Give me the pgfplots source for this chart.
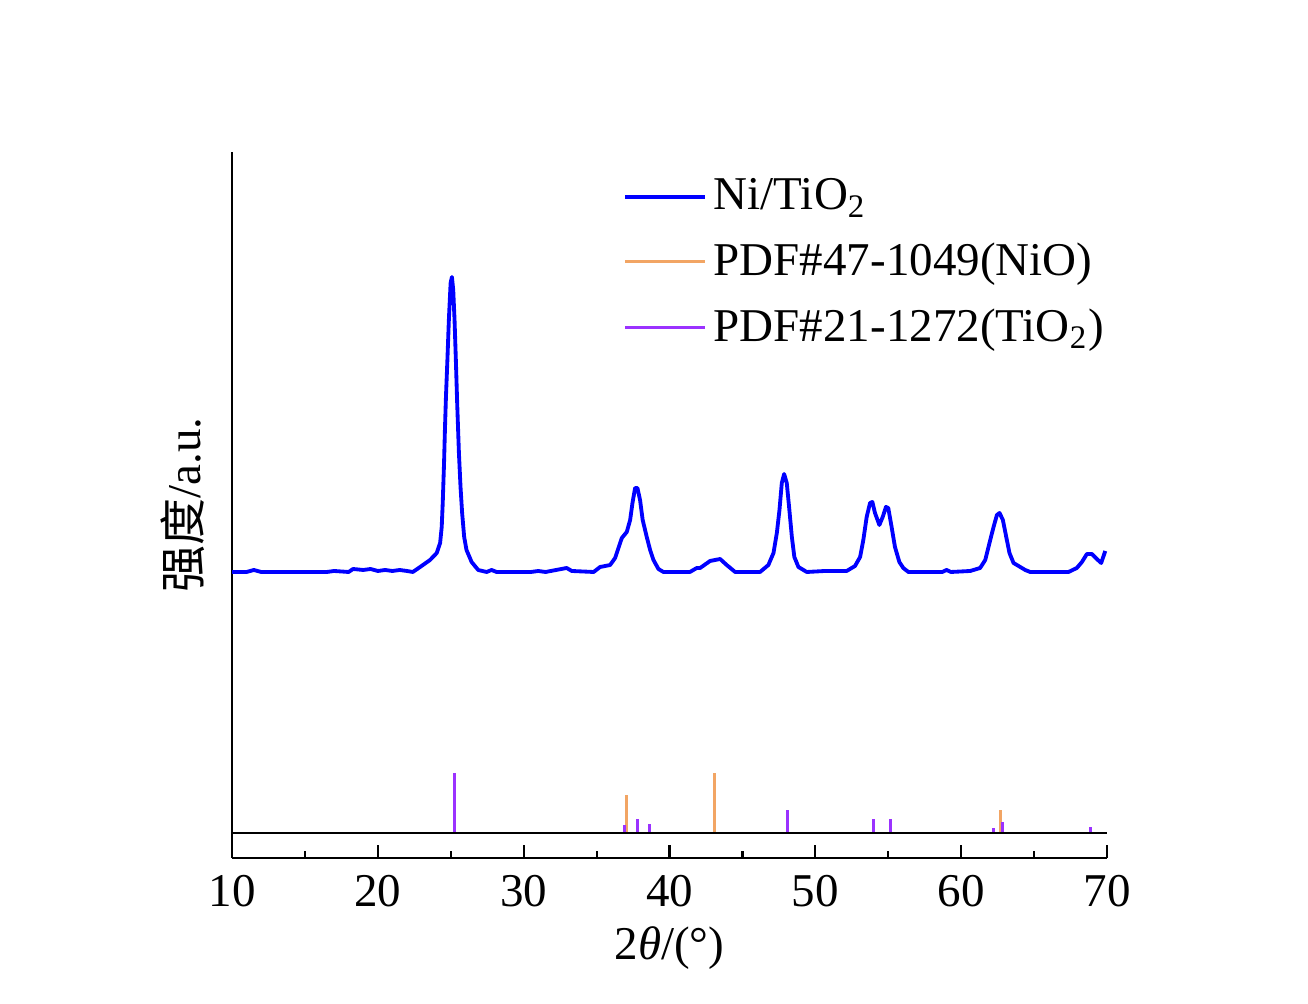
\documentclass[border=0pt]{standalone}
\usepackage{pgfplots}
\pgfplotsset{compat=1.18}
\usepackage{fontspec}
\setmainfont{Liberation Serif}
\newfontfamily\cjk{Noto Sans CJK SC}
\definecolor{nioorange}{RGB}{242,165,100}
\definecolor{tipurple}{RGB}{155,50,255}
\begin{document}
\begin{tikzpicture}
\useasboundingbox (-69.6pt,-43.8pt) rectangle (322.8pt,257.4pt);
\begin{axis}[
  scale only axis,
  width=262.5pt, height=211.8pt,
  xmin=10, xmax=70, ymin=-25, ymax=681,
  axis x line*=bottom, axis y line*=left,
  axis line style={line width=0.65pt},
  xtick={10,20,30,40,50,60,70},
  minor x tick num=1,
  ytick=\empty,
  tick align=inside,
  major tick length=3.9pt, minor tick length=2.1pt,
  every tick/.style={black, line width=0.65pt},
  /pgf/number format/assume math mode=true,
  tick label style={font=\fontsize{14.1}{17}\selectfont},
  xticklabel style={yshift=-1.6pt},
  label style={font=\fontsize{14.1}{17}\selectfont},
  xlabel={2\textit{θ}/(°)},
  ylabel={{\cjk 强度}/a.u.},
  x label style={at={(axis description cs:0.5,-0.1275)}, anchor=center},
  y label style={at={(axis description cs:-0.056,0.5)}, anchor=center},
  legend style={draw=none, fill=none, at={(0.435,0.982)}, anchor=north west,
    font=\fontsize{14.1}{17}\selectfont, row sep=4.5pt,
    /tikz/every even column/.style={column sep=0pt}},
  legend cell align=left,
  legend image code/.code={\draw[#1] (0pt,0pt) -- (24pt,0pt);},
  clip=false,
]
\addplot[blue, line width=1.15pt, line join=round] coordinates {
(10.0,261) (11.0,261) (11.5,263) (12.0,261) (16.5,261) (17.0,262) (18.0,261)
(18.3,264) (19.0,263) (19.5,264) (20.0,262) (20.5,263) (21.0,262) (21.5,263)
(22.0,262) (22.4,261) (22.9,266) (23.58,273) (24.04,280) (24.27,290) (24.38,306)
(24.45,330) (24.54,370) (24.6,403) (24.67,436) (24.77,473) (24.87,513) (24.99,550)
(25.08,556) (25.17,543) (25.26,513) (25.35,473) (25.44,430) (25.56,380) (25.67,346)
(25.78,320) (25.92,296) (26.08,283) (26.43,271) (26.88,263) (27.46,261) (27.8,263)
(28.14,261) (29.0,261) (30.5,261) (31.0,262) (31.5,261) (32.95,265) (33.3,262)
(34.8,261) (35.24,266) (35.93,268) (36.27,275) (36.5,285) (36.73,295) (37.07,301)
(37.3,313) (37.46,330) (37.64,345) (37.8,345) (37.98,333) (38.16,313) (38.44,296)
(38.67,283) (38.9,273) (39.24,264) (39.58,261) (41.4,261) (41.87,265) (42.1,265)
(42.78,272) (43.47,274) (43.92,268) (44.5,261) (46.21,261) (46.78,268) (47.13,280)
(47.36,300) (47.54,323) (47.7,350) (47.86,359) (48.04,350) (48.2,326) (48.39,296)
(48.56,276) (48.84,266) (49.41,261) (50.66,262) (52.15,262) (52.72,267) (53.07,276)
(53.29,293) (53.52,316) (53.75,330) (53.91,331) (54.09,320) (54.39,308) (54.62,316)
(54.84,326) (55.0,325) (55.23,306) (55.46,286) (55.76,271) (56.03,265) (56.38,261)
(58.7,261) (59.0,263) (59.3,261) (60.62,262) (61.3,265) (61.65,273) (61.94,290)
(62.22,306) (62.45,318) (62.63,320) (62.86,313) (63.09,296) (63.31,280) (63.59,270)
(64.05,266) (64.39,263) (64.73,261) (67.36,261) (67.93,265) (68.28,271) (68.62,279)
(68.96,279) (69.3,274) (69.6,270) (69.88,282)
};
\addlegendentry{Ni/TiO\textsubscript{2}}
\addplot[nioorange, line width=0.9pt, ycomb] coordinates {
(37.02,38) (43.08,60) (62.7,23)
};
\addlegendentry{PDF\#47-1049(NiO)}
\addplot[tipurple, line width=0.9pt, ycomb] coordinates {
(25.29,60) (36.9,8) (37.8,14) (38.6,9) (48.08,23) (53.98,14) (55.15,14)
(62.2,5) (62.8,11) (68.85,6)
};
\addlegendentry{PDF\#21-1272(TiO\textsubscript{2})}
\addplot[black, line width=0.85pt, forget plot] coordinates {(10,0) (70,0)};
\end{axis}
\end{tikzpicture}
\end{document}
